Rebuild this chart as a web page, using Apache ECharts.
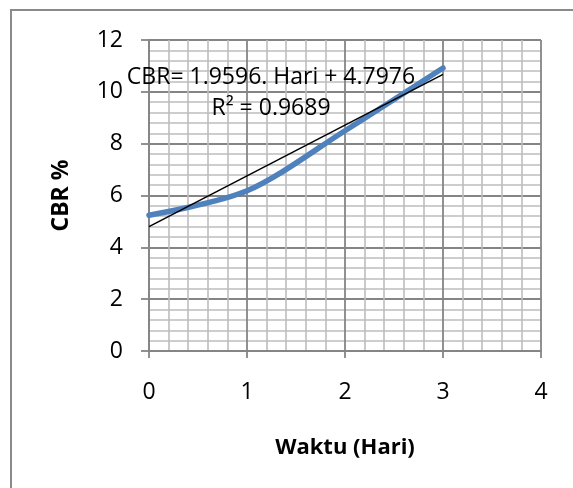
<!DOCTYPE html>
<html>
<head>
<meta charset="utf-8">
<title>CBR vs Waktu</title>
<script src="https://cdn.jsdelivr.net/npm/echarts@6/dist/echarts.min.js"></script>
<style>
  html, body { margin: 0; padding: 0; background: #fff; }
  #chart { width: 573px; height: 488px; }
</style>
</head>
<body>
<div id="chart"></div>
<script>
// Measured CBR (%) for each curing day
const days = [0, 1, 2, 3];
const cbrValues = [5.24, 6.18, 8.5, 10.92];

// Linear trend coefficients as reported in the equation label
const trendSlope = 1.9596;
const trendIntercept = 4.7976;
const trendR2 = '0.9689';

// Axis tick settings
const xTicks = { min: 0, max: 4, interval: 1 };
const yTicks = { min: 0, max: 12, interval: 2 };

const FONT = 'Open Sans';
const majorGrid = '#858585';
const minorGrid = '#bdbdbd';

const measured = days.map((d, i) => [d, cbrValues[i]]);
const trend = [days[0], days[days.length - 1]].map(d => [d, trendSlope * d + trendIntercept]);

const chart = echarts.init(document.getElementById('chart'), null, { renderer: 'canvas' });

chart.setOption({
  animation: false,
  backgroundColor: '#ffffff',
  grid: {
    left: 149, top: 40, width: 392, height: 311,
    containLabel: false, outerBoundsMode: 'none'
  },
  xAxis: {
    type: 'value',
    min: xTicks.min, max: xTicks.max, interval: xTicks.interval,
    name: 'Waktu (Hari)',
    nameLocation: 'middle',
    nameGap: 86,
    nameTextStyle: { fontFamily: FONT, fontWeight: 'bold', fontSize: 22, color: '#000' },
    axisLine: { show: true, onZero: false, lineStyle: { color: majorGrid, width: 1.8 } },
    axisTick: { show: true, length: 7, lineStyle: { color: majorGrid, width: 1.8 } },
    axisLabel: { fontFamily: FONT, fontSize: 23, color: '#000', margin: 30 },
    splitLine: { show: true, lineStyle: { color: majorGrid, width: 1.8 } },
    minorTick: { show: false, splitNumber: 5 },
    minorSplitLine: { show: true, lineStyle: { color: minorGrid, width: 1.6 } }
  },
  yAxis: {
    type: 'value',
    min: yTicks.min, max: yTicks.max, interval: yTicks.interval,
    name: 'CBR %',
    nameLocation: 'middle',
    nameGap: 76,
    nameRotate: 90,
    nameTextStyle: { fontFamily: FONT, fontWeight: 'bold', fontSize: 23, color: '#000' },
    axisLine: { show: true, onZero: false, lineStyle: { color: majorGrid, width: 1.8 } },
    axisTick: { show: true, length: 8, lineStyle: { color: majorGrid, width: 1.8 } },
    axisLabel: { fontFamily: FONT, fontSize: 23, color: '#000', margin: 26 },
    splitLine: { show: true, lineStyle: { color: majorGrid, width: 1.8 } },
    minorTick: { show: false, splitNumber: 5 },
    minorSplitLine: { show: true, lineStyle: { color: minorGrid, width: 1.6 } }
  },
  series: [
    {
      name: 'CBR',
      type: 'line',
      data: measured,
      smooth: 0.3,
      showSymbol: false,
      lineStyle: { color: '#4f81bd', width: 5.5, cap: 'round' },
      z: 3
    },
    {
      name: 'Trend',
      type: 'line',
      data: trend,
      showSymbol: false,
      lineStyle: { color: '#000', width: 1.5 },
      z: 4
    }
  ],
  graphic: [
    {
      type: 'rect',
      shape: { x: 11, y: 10, width: 700, height: 700 },
      style: { fill: 'none', stroke: '#8a8a8a', lineWidth: 2 },
      silent: true
    },
    {
      type: 'text',
      x: 271, y: 77,
      style: {
        text: 'CBR= ' + trendSlope + '. Hari + ' + trendIntercept,
        fontFamily: FONT, fontSize: 23, fill: '#000',
        align: 'center', verticalAlign: 'middle'
      },
      z: 10
    },
    {
      type: 'text',
      x: 271, y: 108,
      style: {
        text: 'R² = ' + trendR2,
        fontFamily: FONT, fontSize: 23, fill: '#000',
        align: 'center', verticalAlign: 'middle'
      },
      z: 10
    }
  ]
});
</script>
</body>
</html>
